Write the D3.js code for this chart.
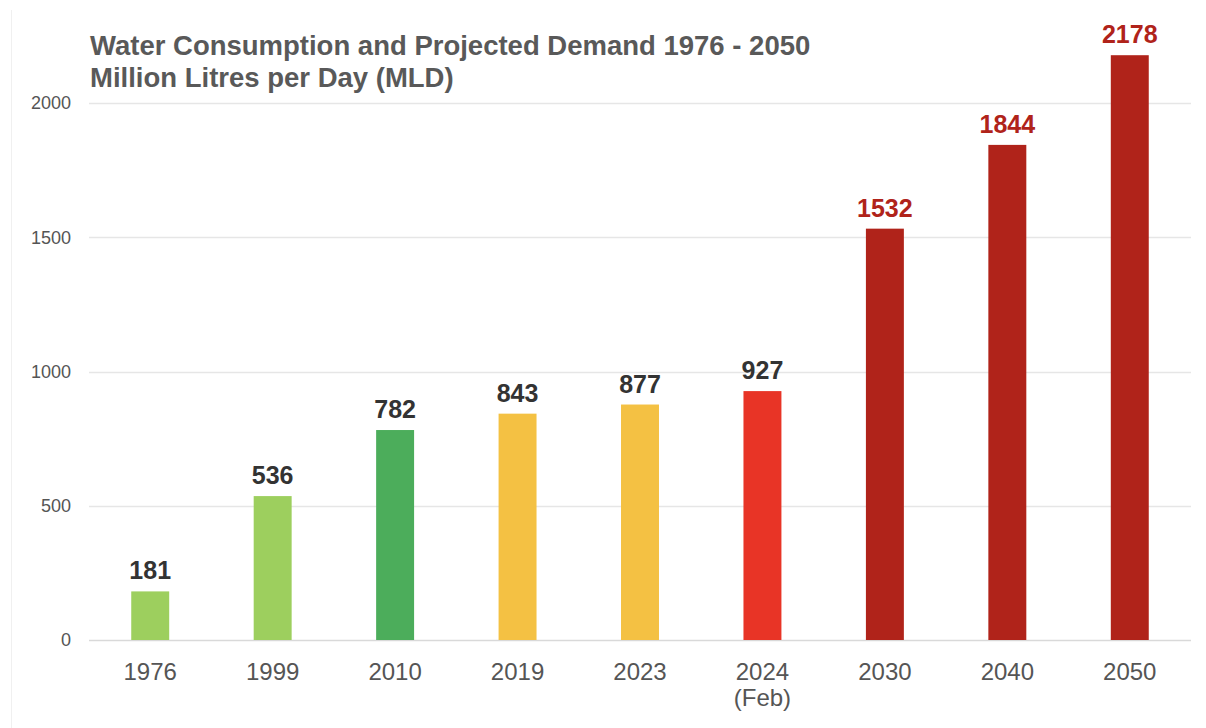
<!DOCTYPE html>
<html>
<head>
<meta charset="utf-8">
<script src="https://cdn.jsdelivr.net/npm/d3@7"></script>
<style>
  body { margin: 0; background: #fff; }
  svg { display: block; font-family: "Liberation Sans", Arial, sans-serif; }
</style>
</head>
<body>
<svg width="1206" height="728"></svg>
<script>
// Data
const years = ["1976", "1999", "2010", "2019", "2023", "2024", "2030", "2040", "2050"];
const subLabels = ["", "", "", "", "", "(Feb)", "", "", ""];
const consumption = [181, 536, 782, 843, 877, 927, 1532, 1844, 2178];
const barColors = ["#9dcf5e", "#9dcf5e", "#4cad5b", "#f4c143", "#f4c143", "#e83426", "#b0231a", "#b0231a", "#b0231a"];
const labelColors = ["#333", "#333", "#333", "#333", "#333", "#333", "#b0231a", "#b0231a", "#b0231a"];
const yTicks = [0, 500, 1000, 1500, 2000];

const svg = d3.select("svg");

// faint frame edge on the left
svg.append("line")
  .attr("x1", 11.5).attr("x2", 11.5)
  .attr("y1", 10).attr("y2", 728)
  .attr("stroke", "#f0f0f0");

// Scales
const x = d3.scaleBand()
  .domain(years)
  .range([89, 1191])
  .paddingInner(0.69)
  .paddingOuter(0.345);

const y = d3.scaleLinear()
  .domain([0, 2000])
  .range([640, 103]);

// Gridlines
svg.append("g")
  .selectAll("line")
  .data(yTicks)
  .join("line")
  .attr("x1", 89)
  .attr("x2", 1191)
  .attr("y1", d => Math.round(y(d)) + 0.5)
  .attr("y2", d => Math.round(y(d)) + 0.5)
  .attr("stroke", d => d === 0 ? "#d9d9d9" : "#e6e6e6")
  .attr("stroke-width", 1.5);

// Y axis labels
svg.append("g")
  .selectAll("text")
  .data(yTicks)
  .join("text")
  .attr("x", 71)
  .attr("y", d => y(d))
  .attr("dy", "0.35em")
  .attr("text-anchor", "end")
  .style("font-size", "18px")
  .style("fill", "#555")
  .text(d => d);

// Bars
svg.append("g")
  .selectAll("rect")
  .data(consumption)
  .join("rect")
  .attr("x", (d, i) => x(years[i]))
  .attr("width", x.bandwidth())
  .attr("y", d => y(d))
  .attr("height", d => y(0) - y(d))
  .attr("fill", (d, i) => barColors[i]);

// Value labels
svg.append("g")
  .selectAll("text")
  .data(consumption)
  .join("text")
  .attr("x", (d, i) => x(years[i]) + x.bandwidth() / 2)
  .attr("y", d => y(d) - 12)
  .attr("text-anchor", "middle")
  .style("font-size", "25px")
  .style("font-weight", "bold")
  .style("fill", (d, i) => labelColors[i])
  .text(d => d);

// X axis labels
const xLabels = svg.append("g")
  .selectAll("text")
  .data(years)
  .join("text")
  .attr("x", d => x(d) + x.bandwidth() / 2)
  .attr("y", 680)
  .attr("text-anchor", "middle")
  .style("font-size", "24px")
  .style("fill", "#555");

xLabels.append("tspan").text(d => d);
xLabels.append("tspan")
  .attr("x", d => x(d) + x.bandwidth() / 2)
  .attr("dy", 26)
  .text((d, i) => subLabels[i]);

// Title
const title = svg.append("text")
  .attr("x", 90)
  .attr("y", 55)
  .style("font-size", "27.5px")
  .style("font-weight", "bold")
  .style("fill", "#595959");
title.append("tspan").text("Water Consumption and Projected Demand 1976 - 2050");
title.append("tspan").attr("x", 90).attr("dy", 32).text("Million Litres per Day (MLD)");
</script>
</body>
</html>
